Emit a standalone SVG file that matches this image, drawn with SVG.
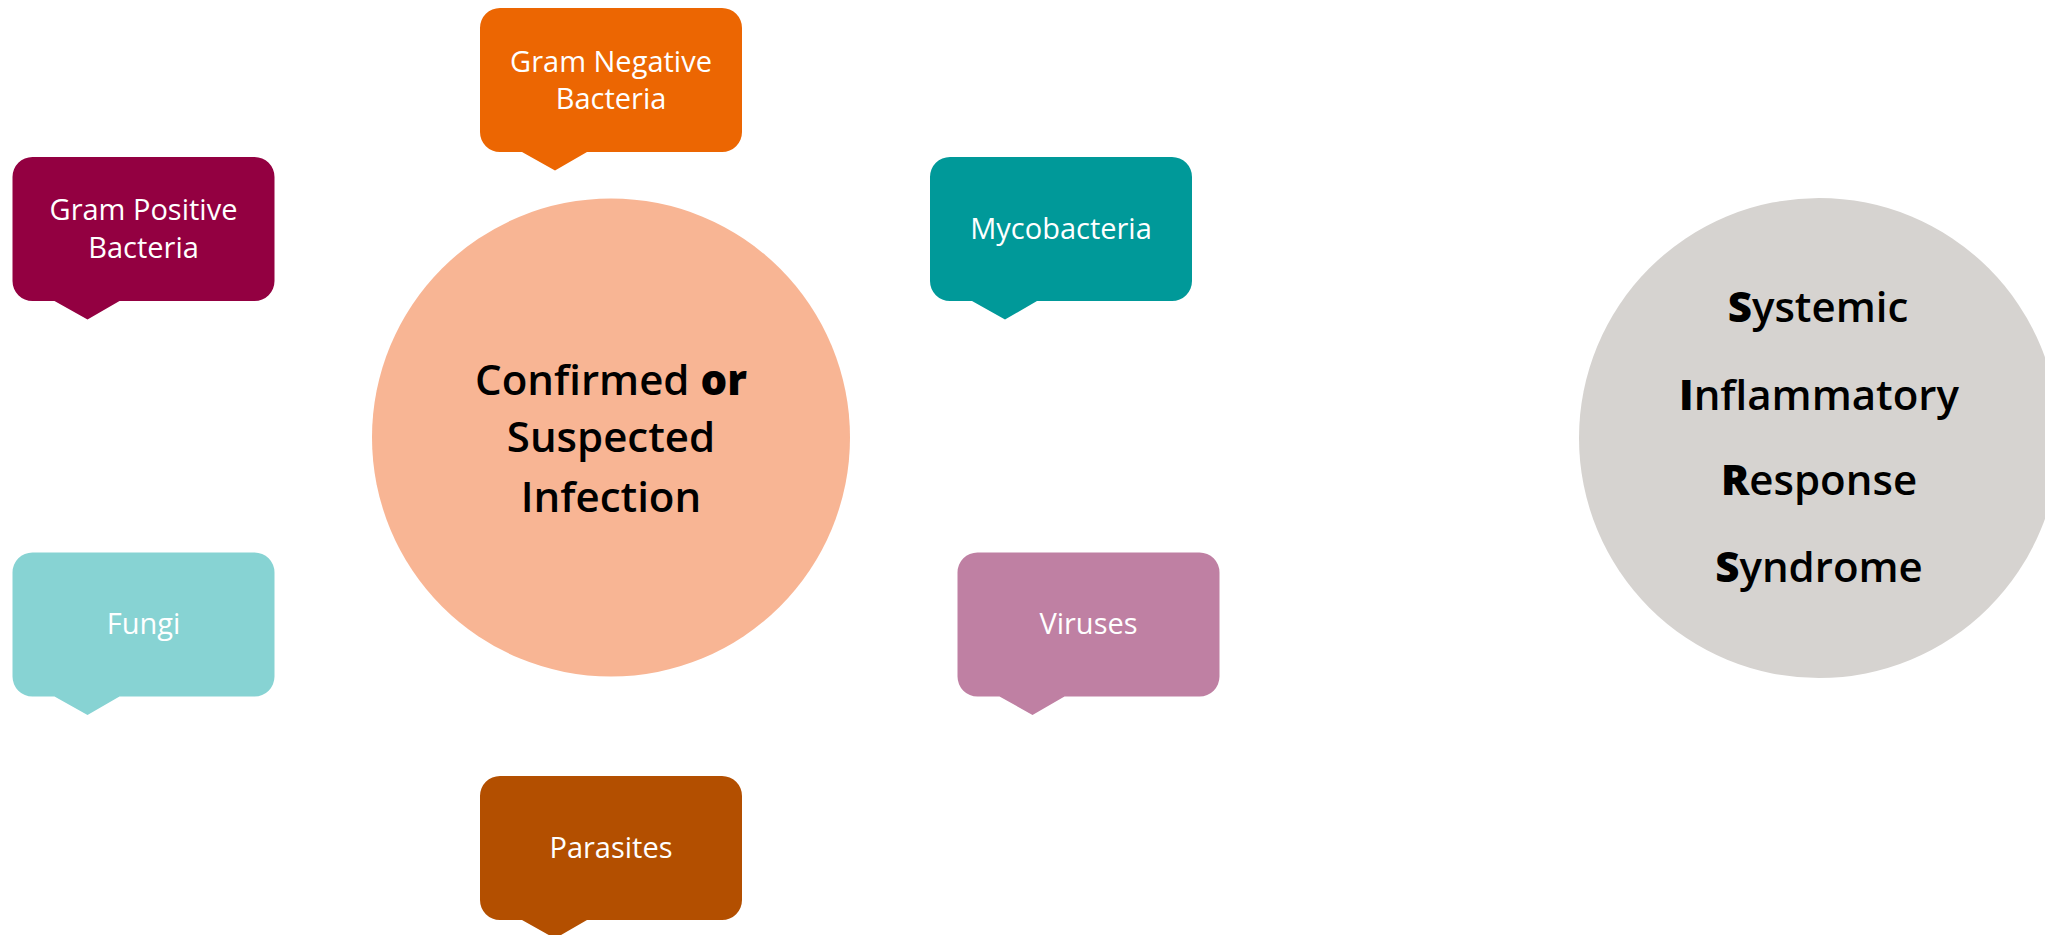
<svg xmlns="http://www.w3.org/2000/svg" xmlns:xlink="http://www.w3.org/1999/xlink" width="2045" height="935" viewBox="0 0 2045 935">
  <style>
    .lbl { font-family: "Open Sans", "Noto Sans", "Liberation Sans", sans-serif; font-size: 29px; font-weight: 500; fill: #ffffff; text-anchor: middle; }
    .big { font-family: "Open Sans", "Noto Sans", "Liberation Sans", sans-serif; font-size: 42px; font-weight: 600; fill: #000000; text-anchor: middle; }
    .b { font-weight: 800; }
  </style>
  <defs>
    <!-- speech bubble: 262 x 144 box with a tail pointing down -->
    <path id="bubble" d="M20,0 H242 A20,20 0 0 1 262,20 V124 A20,20 0 0 1 242,144 H107 L75,162.5 L42,144 H20 A20,20 0 0 1 0,124 V20 A20,20 0 0 1 20,0 Z"/>
  </defs>
  <rect width="2045" height="935" fill="#ffffff"/>

  <g id="connectors"></g>

  <g id="infection">
    <circle cx="611" cy="437.5" r="239" fill="#F8B594"/>
    <text class="big" x="611" y="395">Confirmed <tspan class="b">or</tspan></text>
    <text class="big" x="611" y="452">Suspected</text>
    <text class="big" x="611" y="512">Infection</text>
  </g>

  <g id="sirs">
    <circle cx="1819" cy="438" r="240" fill="#D6D3D0"/>
    <text class="big" x="1818" y="322"><tspan class="b">S</tspan>ystemic</text>
    <text class="big" x="1819" y="410"><tspan class="b">I</tspan>nflammatory</text>
    <text class="big" x="1819" y="495"><tspan class="b">R</tspan>esponse</text>
    <text class="big" x="1819" y="582"><tspan class="b">S</tspan>yndrome</text>
  </g>

  <g id="gram-negative">
    <use xlink:href="#bubble" x="480" y="8" fill="#EC6602"/>
    <text class="lbl" x="611" y="72">Gram Negative</text>
    <text class="lbl" x="611" y="109">Bacteria</text>
  </g>

  <g id="gram-positive">
    <use xlink:href="#bubble" x="12.5" y="157" fill="#930041"/>
    <text class="lbl" x="143.5" y="220">Gram Positive</text>
    <text class="lbl" x="143.5" y="258">Bacteria</text>
  </g>

  <g id="mycobacteria">
    <use xlink:href="#bubble" x="930" y="157" fill="#009999"/>
    <text class="lbl" x="1061" y="239">Mycobacteria</text>
  </g>

  <g id="fungi">
    <use xlink:href="#bubble" x="12.5" y="552.5" fill="#87D3D3"/>
    <text class="lbl" x="143.5" y="634">Fungi</text>
  </g>

  <g id="viruses">
    <use xlink:href="#bubble" x="957.5" y="552.5" fill="#BF80A3"/>
    <text class="lbl" x="1088.5" y="634">Viruses</text>
  </g>

  <g id="parasites">
    <use xlink:href="#bubble" x="480" y="776" fill="#B34F00"/>
    <text class="lbl" x="611" y="858">Parasites</text>
  </g>
</svg>
